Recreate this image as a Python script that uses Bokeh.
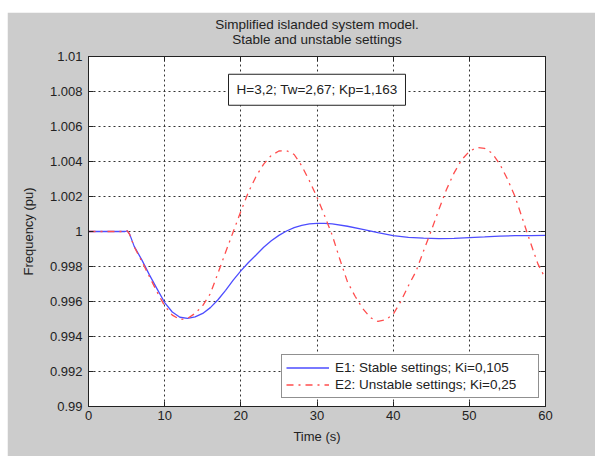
from bokeh.plotting import figure
from bokeh.models import (LinearAxis, FixedTicker, Label, Legend, LegendItem,
                          ColumnDataSource, Range1d, Spacer)
from bokeh.layouts import column, row
from bokeh.embed import file_html
from bokeh.resources import INLINE

# ---------------- data ----------------
t_e1 = [0, 4.8, 5.1, 5.4, 6, 7, 8, 9, 10, 11, 12, 13, 14, 15, 16, 17, 18, 19,
        20, 21, 22, 23, 24, 25, 26, 27, 28, 29, 30, 31, 32, 34, 36, 38, 40,
        42, 44, 46, 48, 50, 52, 54, 56, 58, 60]
f_e1 = [1.0, 1.0, 1.00004, 0.99985, 0.99915, 0.99838, 0.99752, 0.99672,
        0.99594, 0.99540, 0.99510, 0.99503, 0.99512, 0.99532, 0.99565,
        0.99610, 0.99664, 0.99722, 0.99775, 0.99823, 0.99866, 0.99910,
        0.99947, 0.99978, 1.00003, 1.00022, 1.00035, 1.00043, 1.00047,
        1.00047, 1.00044, 1.00030, 1.00012, 0.99993, 0.99977, 0.99967,
        0.99962, 0.99959, 0.99961, 0.99965, 0.99969, 0.99974, 0.99976,
        0.99977, 0.99978]

t_e2 = [0, 4.8, 5.1, 5.4, 6, 7, 8, 9, 10, 11, 12, 13, 14, 15, 16, 17, 18, 19,
        20, 21, 22, 23, 24, 25, 26, 27, 28, 29, 30, 31, 32, 33, 34, 35, 36,
        37, 38, 39, 40, 41, 42, 43, 44, 45, 46, 47, 48, 49, 50, 51, 52, 53,
        54, 55, 56, 57, 58, 59, 60]
f_e2 = [1.0, 1.0, 1.00003, 0.99983, 0.99912, 0.99830, 0.99742, 0.99655,
        0.99575, 0.99522, 0.99497, 0.99503, 0.99532, 0.99577, 0.99645,
        0.99762, 0.99882, 0.99998, 1.00115, 1.00225, 1.00315, 1.00385,
        1.00435, 1.00460, 1.00462, 1.00440, 1.00375, 1.00290, 1.00196,
        1.00090, 0.99979, 0.99841, 0.99712, 0.99630, 0.99560, 0.99508,
        0.99486, 0.99495, 0.99527, 0.99600, 0.99690, 0.99772, 0.99890,
        1.00005, 1.00125, 1.00240, 1.00335, 1.00410, 1.00458, 1.00480,
        1.00475, 1.00448, 1.00385, 1.00300, 1.00200, 1.00070, 0.99940,
        0.99815, 0.99730]

x_ticks = [0, 10, 20, 30, 40, 50, 60]
y_ticks = [0.99, 0.992, 0.994, 0.996, 0.998, 1.0, 1.002, 1.004, 1.006, 1.008, 1.01]
y_tick_labels = ["0.99", "0.992", "0.994", "0.996", "0.998", "1", "1.002",
                 "1.004", "1.006", "1.008", "1.01"]

title_lines = ["Simplified islanded system model.", "Stable and unstable settings"]
legend_labels = ["E1: Stable settings; Ki=0,105", "E2: Unstable settings; Ki=0,25"]
param_text = "H=3,2; Tw=2,67; Kp=1,163"
param_pos = (30.0, 1.0081)

FONT = "Liberation Sans"
GRAY = "#cccccc"
INK = "#222222"

p = figure(width=588, height=444, x_range=Range1d(0, 60), y_range=Range1d(0.99, 1.01),
           output_backend="svg", toolbar_location=None,
           min_border_left=81, min_border_right=50, min_border_top=44,
           min_border_bottom=50, border_fill_color=GRAY,
           background_fill_color="white", outline_line_color=INK)

src1 = ColumnDataSource(dict(t=t_e1, f=f_e1))
src2 = ColumnDataSource(dict(t=t_e2, f=f_e2))
r1 = p.line("t", "f", source=src1, line_color="#4d4dff", line_width=1.3)
r2 = p.line("t", "f", source=src2, line_color="#ff4d4d", line_width=1.3,
            line_dash="7 5 2 5")

y_over = {v: s for v, s in zip(y_ticks, y_tick_labels)}

for ax in p.xaxis:
    ax.ticker = FixedTicker(ticks=x_ticks)
for ax in p.yaxis:
    ax.ticker = FixedTicker(ticks=y_ticks)
    ax.major_label_overrides = y_over

for ax in list(p.xaxis) + list(p.yaxis):
    ax.major_tick_in = 5
    ax.major_tick_out = 0
    ax.minor_tick_line_color = None
    ax.axis_line_color = INK
    ax.major_tick_line_color = INK
    ax.major_label_text_font = FONT
    ax.major_label_text_font_size = "13px"
    ax.major_label_text_color = INK
    ax.axis_label_text_font = FONT
    ax.axis_label_text_font_size = "13px"
    ax.axis_label_text_font_style = "normal"
    ax.axis_label_text_color = INK

p.xaxis.axis_label = "Time (s)"
p.yaxis.axis_label = "Frequency (pu)"
p.xaxis.major_label_standoff = 4
p.yaxis.major_label_standoff = 6
p.xaxis.axis_label_standoff = 6
p.yaxis.axis_label_standoff = 11

# box-style ticks on top (carrying the two-line title) and right
top = LinearAxis(ticker=FixedTicker(ticks=x_ticks), major_tick_in=5, major_tick_out=0,
                 minor_tick_line_color=None, major_label_standoff=0,
                 major_label_overrides={v: "" for v in x_ticks},
                 axis_line_color=INK, major_tick_line_color=INK,
                 axis_label="\n".join(title_lines), axis_label_standoff=10,
                 axis_label_text_font=FONT, axis_label_text_font_size="13.5px",
                 axis_label_text_font_style="normal", axis_label_text_color=INK,
                 axis_label_text_line_height=1.0)
right = LinearAxis(ticker=FixedTicker(ticks=y_ticks), major_tick_in=5, major_tick_out=0,
                   minor_tick_line_color=None, major_label_standoff=0,
                   major_label_overrides={v: "" for v in y_ticks},
                   axis_line_color=INK, major_tick_line_color=INK)
p.add_layout(top, "above")
p.add_layout(right, "right")

p.grid.grid_line_color = "#333333"
p.grid.grid_line_dash = "2 3"
p.grid.grid_line_width = 1
p.xgrid.ticker = FixedTicker(ticks=x_ticks)
p.ygrid.ticker = FixedTicker(ticks=y_ticks)

legend = Legend(items=[LegendItem(label=legend_labels[0], renderers=[r1]),
                       LegendItem(label=legend_labels[1], renderers=[r2])],
                location=(193, 8))
legend.label_text_font = FONT
legend.label_text_font_size = "13.5px"
legend.label_text_color = INK
legend.border_line_color = INK
legend.border_line_width = 1
legend.background_fill_color = "white"
legend.background_fill_alpha = 1
legend.glyph_width = 43
legend.glyph_height = 17
legend.label_height = 17
legend.label_width = 199
legend.spacing = 0
legend.padding = 4
legend.margin = 0
legend.label_standoff = 6
p.add_layout(legend)

lab = Label(x=param_pos[0], y=param_pos[1], text=param_text, text_align="center",
            text_baseline="middle", text_font=FONT, text_font_size="13.5px",
            text_color=INK, background_fill_color="white",
            border_line_color=INK, border_line_width=1, padding=8)
p.add_layout(lab)

layout = column(Spacer(width=595, height=12),
                row(Spacer(width=7, height=444), p))

open("out.html", "w").write(file_html(layout, INLINE))
